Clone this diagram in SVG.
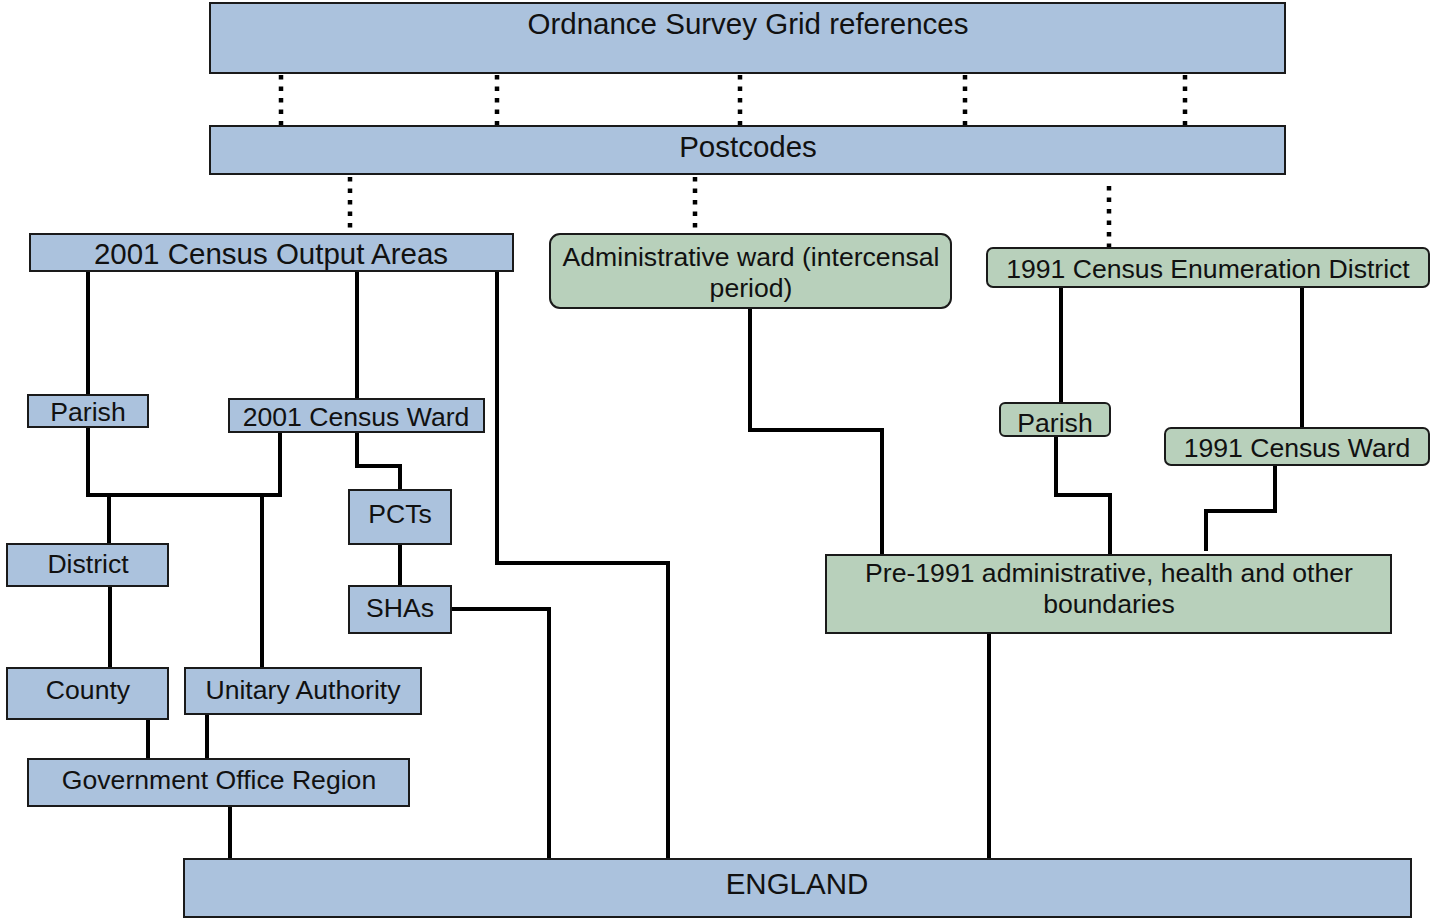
<svg xmlns="http://www.w3.org/2000/svg" width="1430" height="919" viewBox="0 0 1430 919">
<style>
.b{fill:#abc2dd;stroke:#1a1a1a;stroke-width:2}
.g{fill:#b8d0bb;stroke:#1a1a1a;stroke-width:2}
text{font-family:"Liberation Sans",Arial,sans-serif;fill:#111;text-anchor:middle;dominant-baseline:central}
.t26{font-size:29.5px}
.t24{font-size:26.6px}
.c{fill:none;stroke:#000;stroke-width:4}
.d{fill:none;stroke:#000;stroke-width:4.5;stroke-dasharray:4.5 7}
</style>
<rect width="1430" height="919" fill="#fff"/>
<g id="connectors">
<path class="d" d="M281 75V126M497 75V126M740 75V126M965 75V126M1185 75V126"/>
<path class="d" d="M350 177V233M695 177V233M1109 186V249"/>
<path class="c" d="M88 271V395M88 427V495H280V432M109 495V544M262 495V668"/>
<path class="c" d="M357 271V399M357 432V466H400V490M400 544V586"/>
<path class="c" d="M451 609H549V859M497 271V563H668V859"/>
<path class="c" d="M110 586V668M148 719V759M207 714V759M230 806V859"/>
<path class="c" d="M750 308V430H882V555"/>
<path class="c" d="M1061 287V403M1302 287V428M1056 436V495H1110V555M1275 465V511H1206V551M989 633V859"/>
</g>
<g id="os"><rect class="b" x="210" y="3" width="1075" height="70"/><text class="t26" x="748" y="23">Ordnance Survey Grid references</text></g>
<g id="postcodes"><rect class="b" x="210" y="126" width="1075" height="48"/><text class="t26" x="748" y="146">Postcodes</text></g>
<g id="oa"><rect class="b" x="30" y="234" width="483" height="37"/><text class="t26" x="271" y="253">2001 Census Output Areas</text></g>
<g id="adminward"><rect class="g" x="550" y="234" width="401" height="74" rx="10"/><text class="t24" x="751" y="257">Administrative ward (intercensal</text><text class="t24" x="751" y="288">period)</text></g>
<g id="ed1991"><rect class="g" x="987" y="248" width="442" height="39" rx="6"/><text class="t24" x="1208" y="269">1991 Census Enumeration District</text></g>
<g id="parish1"><rect class="b" x="28" y="395" width="120" height="32"/><text class="t24" x="88" y="412">Parish</text></g>
<g id="ward2001"><rect class="b" x="229" y="399" width="255" height="33"/><text class="t24" x="356" y="417">2001 Census Ward</text></g>
<g id="pcts"><rect class="b" x="349" y="490" width="102" height="54"/><text class="t24" x="400" y="514">PCTs</text></g>
<g id="shas"><rect class="b" x="349" y="586" width="102" height="47"/><text class="t24" x="400" y="608">SHAs</text></g>
<g id="district"><rect class="b" x="7" y="544" width="161" height="42"/><text class="t24" x="88" y="564">District</text></g>
<g id="county"><rect class="b" x="7" y="668" width="161" height="51"/><text class="t24" x="88" y="690">County</text></g>
<g id="ua"><rect class="b" x="185" y="668" width="236" height="46"/><text class="t24" x="303" y="690">Unitary Authority</text></g>
<g id="gor"><rect class="b" x="28" y="759" width="381" height="47"/><text class="t24" x="219" y="780">Government Office Region</text></g>
<g id="parish2"><rect class="g" x="1000" y="403" width="110" height="33" rx="5"/><text class="t24" x="1055" y="423">Parish</text></g>
<g id="ward1991"><rect class="g" x="1165" y="428" width="264" height="37" rx="6"/><text class="t24" x="1297" y="448">1991 Census Ward</text></g>
<g id="pre1991"><rect class="g" x="826" y="555" width="565" height="78"/><text class="t24" x="1109" y="573">Pre-1991 administrative, health and other</text><text class="t24" x="1109" y="604">boundaries</text></g>
<g id="england"><rect class="b" x="184" y="859" width="1227" height="58"/><text class="t26" x="797" y="883">ENGLAND</text></g>
</svg>
